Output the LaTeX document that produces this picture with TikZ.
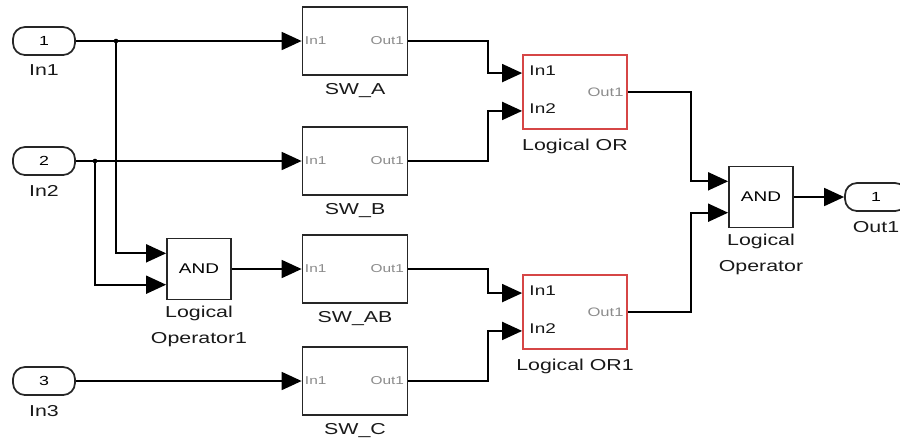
\documentclass[tikz,border=0pt]{standalone}
\usepackage{fontspec}
\setmainfont{Liberation Sans}
\usepackage{tikz}
\usetikzlibrary{arrows.meta}
\usetikzlibrary{calc,positioning}
\definecolor{orred}{RGB}{214,70,70}
\newcommand{\hs}[1]{\scalebox{1.35}[1]{#1}}
\tikzset{
	blk/.style={draw=black!85, line width=1pt, fill=white, inner sep=0pt, minimum width=2.1cm, minimum height=1.36cm},
	orblk/.style={blk, draw=orred, minimum width=2.08cm, minimum height=1.48cm},
	andblk/.style={blk, minimum width=1.28cm, minimum height=1.22cm, font=\fontsize{8}{9}\selectfont},
	port/.style={draw=black!85, line width=1pt, rounded corners=0.24cm, inner sep=0pt, minimum width=1.24cm, minimum height=0.56cm, font=\fontsize{7.5}{8}\selectfont},
	sig/.style={line width=1pt, -{Triangle[length=0.4cm,width=0.36cm]}},
	plbl/.style={font=\fontsize{6.5}{7}\selectfont, text=black!45, inner sep=0pt},
	inlbl/.style={font=\fontsize{8}{9}\selectfont, text=black!90, inner sep=0pt},
	blbl/.style={font=\fontsize{9}{15}\selectfont, text=black!90, align=center, inner sep=0pt}
}
\begin{document}
\begin{tikzpicture}[x=0.02cm,y=-0.02cm]
	\useasboundingbox (0,0) rectangle (900,441);
	% inports
	\node[port] (in1) at (44,41) {\hs{1}};
	\node[port] (in2) at (44,161) {\hs{2}};
	\node[port] (in3) at (44,381) {\hs{3}};
	\node[blbl, below=5pt of in1] (in1L) {\hs{In1}};
	\node[blbl, below=5pt of in2] (in2L) {\hs{In2}};
	\node[blbl, below=5pt of in3] (in3L) {\hs{In3}};
	% subsystems
	\node[blk] (swa) at (355,41) {};
	\node[blk] (swb) at (355,161) {};
	\node[blk] (swab) at (355,269) {};
	\node[blk] (swc) at (355,381) {};
	\foreach \b in {swa,swb,swab,swc}{
		\node[plbl, anchor=west] (\b-in) at ($(\b.west)+(3,0)$) {\hs{In1}};
		\node[plbl, anchor=east] (\b-out) at ($(\b.east)+(-4,0)$) {\hs{Out1}};
	}
	\node[blbl, below=4pt of swa] (swaL) {\hs{SW\_A}};
	\node[blbl, below=4pt of swb] (swbL) {\hs{SW\_B}};
	\node[blbl, below=4pt of swab] (swabL) {\hs{SW\_AB}};
	\node[blbl, below=4pt of swc] (swcL) {\hs{SW\_C}};
	% logical blocks
	\node[andblk] (and1) at (199,269) {\hs{AND}};
	\node[blbl, below=3pt of and1] (and1L) {\hs{Logical}\\\hs{Operator1}};
	\node[orblk] (or) at (575,92) {};
	\node[orblk] (or1) at (575,312) {};
	\node[blbl, below=5pt of or] (orL) {\hs{Logical OR}};
	\node[blbl, below=5pt of or1] (or1L) {\hs{Logical OR1}};
	\node[andblk] (and) at (761,197) {\hs{AND}};
	\node[blbl, below=3pt of and] (andL) {\hs{Logical}\\\hs{Operator}};
	% outport
	\node[port] (out1) at (876,197) {\hs{1}};
	\node[blbl, below=5pt of out1] (out1L) {\hs{Out1}};
	% input points
	\foreach \b in {and1,or,or1,and}{
		\coordinate (\b-a) at ($(\b.north west)!0.25!(\b.south west)$);
		\coordinate (\b-b) at ($(\b.north west)!0.75!(\b.south west)$);
	}
	\foreach \b in {or,or1}{
		\node[inlbl, anchor=west] (\b-inA) at ($(\b-a)+(7,-2)$) {\hs{In1}};
		\node[inlbl, anchor=west] (\b-inB) at ($(\b-b)+(7,-2)$) {\hs{In2}};
		\node[plbl, font=\fontsize{7}{8}\selectfont, anchor=east] (\b-outA) at ($(\b.east)+(-4,0)$) {\hs{Out1}};
	}
	\coordinate (j1) at (116,41);
	\coordinate (j2) at (95,161);
	% signals
	\draw[sig] (in1.east) -- (swa.west);
	\draw[sig] (in2.east) -- (swb.west);
	\draw[sig] (in3.east) -- (swc.west);
	\fill (j1) circle (1.3pt);
	\fill (j2) circle (1.3pt);
	\draw[sig] (j1) |- (and1-a);
	\draw[sig] (j2) |- (and1-b);
	\draw[sig] (and1.east) -- (swab.west);
	\draw[sig] (swa.east) -- ++(80,0) |- (or-a);
	\draw[sig] (swb.east) -- ++(80,0) |- (or-b);
	\draw[sig] (swab.east) -- ++(80,0) |- (or1-a);
	\draw[sig] (swc.east) -- ++(80,0) |- (or1-b);
	\draw[sig] (or.east) -- ++(63,0) |- (and-a);
	\draw[sig] (or1.east) -- ++(63,0) |- (and-b);
	\draw[sig] (and.east) -- (out1.west);
\end{tikzpicture}
\end{document}
